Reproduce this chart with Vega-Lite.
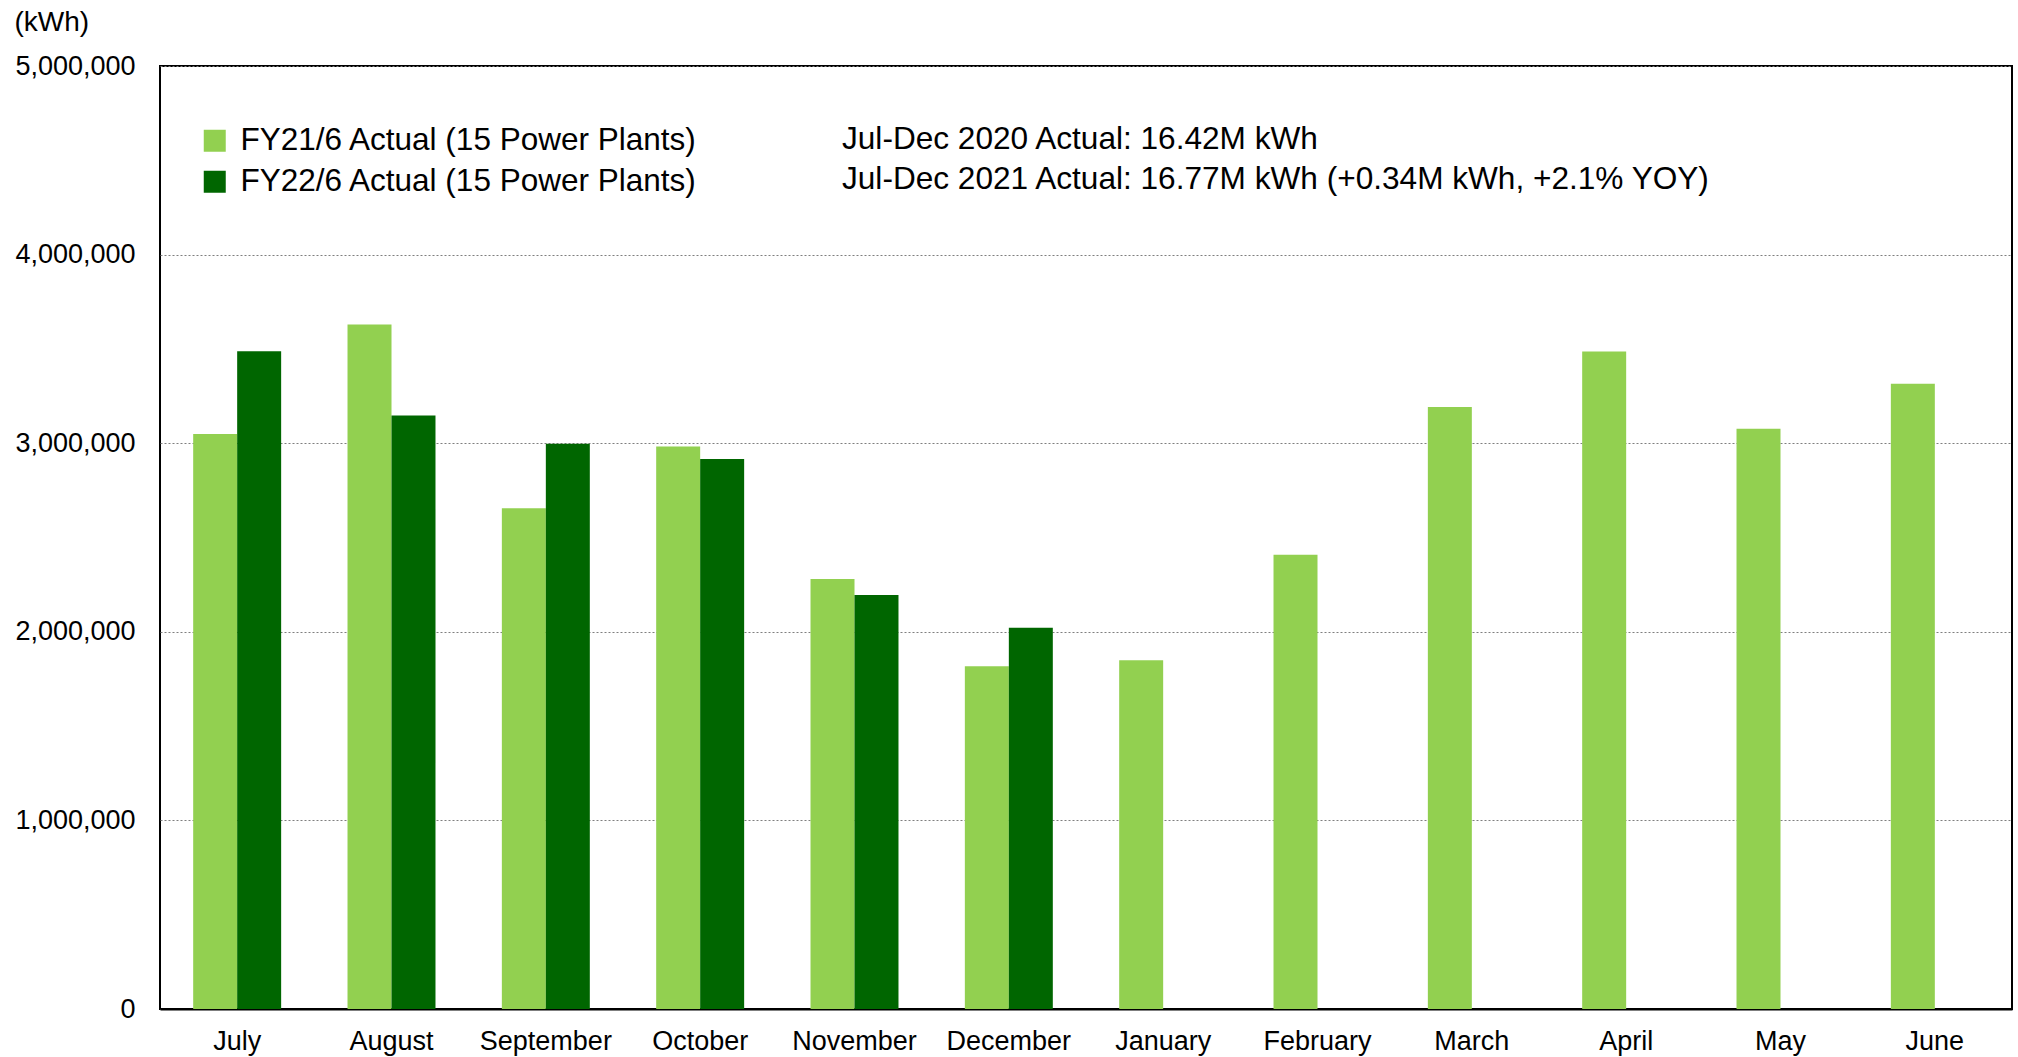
{
  "$schema": "https://vega.github.io/schema/vega-lite/v6.json",
  "autosize": "none",
  "width": 1852,
  "height": 943,
  "padding": {"left": 160, "top": 66, "right": 6, "bottom": 48},
  "background": "white",
  "title": {
    "text": ["Jul-Dec 2020 Actual: 16.42M kWh", "Jul-Dec 2021 Actual: 16.77M kWh (+0.34M kWh, +2.1% YOY)"],
    "anchor": "start",
    "frame": "group",
    "orient": "top",
    "baseline": "top",
    "fontSize": 31.6,
    "fontWeight": "normal",
    "font": "Liberation Sans",
    "color": "black",
    "lineHeight": 40,
    "dx": 682,
    "dy": 188,
    "offset": 0
  },
  "data": {
    "values": [
      {"month": "July", "series": "FY21/6 Actual (15 Power Plants)", "kwh": 3049000},
      {"month": "July", "series": "FY22/6 Actual (15 Power Plants)", "kwh": 3488000},
      {"month": "August", "series": "FY21/6 Actual (15 Power Plants)", "kwh": 3630000},
      {"month": "August", "series": "FY22/6 Actual (15 Power Plants)", "kwh": 3147000},
      {"month": "September", "series": "FY21/6 Actual (15 Power Plants)", "kwh": 2655000},
      {"month": "September", "series": "FY22/6 Actual (15 Power Plants)", "kwh": 2997000},
      {"month": "October", "series": "FY21/6 Actual (15 Power Plants)", "kwh": 2983000},
      {"month": "October", "series": "FY22/6 Actual (15 Power Plants)", "kwh": 2916000},
      {"month": "November", "series": "FY21/6 Actual (15 Power Plants)", "kwh": 2280000},
      {"month": "November", "series": "FY22/6 Actual (15 Power Plants)", "kwh": 2195000},
      {"month": "December", "series": "FY21/6 Actual (15 Power Plants)", "kwh": 1817000},
      {"month": "December", "series": "FY22/6 Actual (15 Power Plants)", "kwh": 2022000},
      {"month": "January", "series": "FY21/6 Actual (15 Power Plants)", "kwh": 1849000},
      {"month": "February", "series": "FY21/6 Actual (15 Power Plants)", "kwh": 2408000},
      {"month": "March", "series": "FY21/6 Actual (15 Power Plants)", "kwh": 3192000},
      {"month": "April", "series": "FY21/6 Actual (15 Power Plants)", "kwh": 3486000},
      {"month": "May", "series": "FY21/6 Actual (15 Power Plants)", "kwh": 3076000},
      {"month": "June", "series": "FY21/6 Actual (15 Power Plants)", "kwh": 3315000}
    ]
  },
  "mark": {"type": "bar"},
  "encoding": {
    "x": {
      "field": "month",
      "type": "nominal",
      "sort": ["July", "August", "September", "October", "November", "December", "January", "February", "March", "April", "May", "June"],
      "scale": {"paddingInner": 0.43, "paddingOuter": 0.215},
      "axis": {
        "title": null,
        "labelAngle": 0,
        "labelFontSize": 27,
        "labelFont": "Liberation Sans",
        "labelColor": "black",
        "labelPadding": 19,
        "ticks": false,
        "domainColor": "black",
        "domainWidth": 2,
        "grid": false
      }
    },
    "xOffset": {"field": "series", "type": "nominal", "scale": {"paddingInner": 0, "paddingOuter": 0}},
    "y": {
      "field": "kwh",
      "type": "quantitative",
      "scale": {"domain": [0, 5000000], "nice": false},
      "axis": {
        "title": "(kWh)",
        "titleAngle": 0,
        "titleAlign": "left",
        "titleBaseline": "middle",
        "titleX": -146,
        "titleY": -44,
        "titleFontSize": 28,
        "titleFontWeight": "normal",
        "titleFont": "Liberation Sans",
        "titleColor": "black",
        "values": [0, 1000000, 2000000, 3000000, 4000000, 5000000],
        "format": ",d",
        "labelFontSize": 27,
        "labelFont": "Liberation Sans",
        "labelColor": "black",
        "labelPadding": 25,
        "ticks": false,
        "domain": false,
        "grid": true,
        "gridColor": "#7f7f7f",
        "gridDash": [2, 2],
        "gridWidth": 1
      }
    },
    "color": {
      "field": "series",
      "type": "nominal",
      "scale": {"range": ["#92D050", "#006600"]},
      "legend": {
        "title": null,
        "orient": "none",
        "legendX": 39,
        "legendY": 59,
        "symbolType": "square",
        "symbolSize": 484,
        "symbolStrokeWidth": 0,
        "symbolOpacity": 1,
        "labelFontSize": 31.5,
        "labelFont": "Liberation Sans",
        "labelColor": "black",
        "labelOffset": 10,
        "rowPadding": 8,
        "labelLimit": 800
      }
    }
  },
  "config": {
    "view": {"stroke": "black", "strokeWidth": 2},
    "axis": {"labelFont": "Liberation Sans"}
  }
}
